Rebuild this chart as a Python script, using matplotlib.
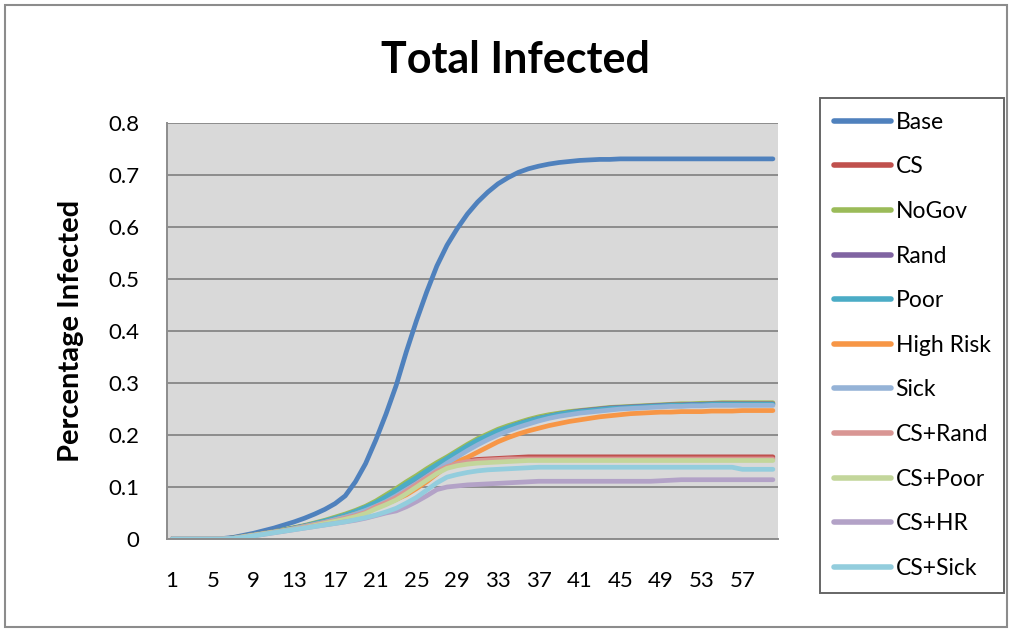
import matplotlib
matplotlib.use("Agg")
import matplotlib.pyplot as plt
from matplotlib.patches import Rectangle

days = list(range(1, 61))

base = [0, 0, 0, 0, 0, 0.001, 0.003, 0.007, 0.011, 0.016,
        0.021, 0.027, 0.033, 0.040, 0.048, 0.057, 0.068, 0.083, 0.110, 0.145,
        0.190, 0.240, 0.295, 0.360, 0.420, 0.475, 0.525, 0.565, 0.597, 0.625,
        0.648, 0.667, 0.683, 0.695, 0.705, 0.712, 0.717, 0.721, 0.724, 0.726,
        0.728, 0.729, 0.730, 0.730, 0.731, 0.731, 0.731, 0.731, 0.731, 0.731,
        0.731, 0.731, 0.731, 0.731, 0.731, 0.731, 0.731, 0.731, 0.731, 0.731]

cs = [0, 0, 0, 0, 0, 0, 0.002, 0.005, 0.008, 0.011,
      0.014, 0.017, 0.021, 0.025, 0.029, 0.034, 0.039, 0.044, 0.050, 0.057,
      0.066, 0.075, 0.085, 0.097, 0.110, 0.123, 0.135, 0.143, 0.148, 0.151,
      0.153, 0.154, 0.155, 0.156, 0.157, 0.158, 0.158, 0.158, 0.158, 0.158,
      0.158, 0.158, 0.158, 0.158, 0.158, 0.158, 0.158, 0.158, 0.158, 0.158,
      0.158, 0.158, 0.158, 0.158, 0.158, 0.158, 0.158, 0.158, 0.158, 0.158]

nogov = [0, 0, 0, 0, 0, 0, 0.002, 0.005, 0.008, 0.011,
         0.014, 0.018, 0.022, 0.026, 0.031, 0.036, 0.042, 0.048, 0.055, 0.063,
         0.073, 0.085, 0.097, 0.110, 0.122, 0.135, 0.147, 0.158, 0.170, 0.182,
         0.193, 0.202, 0.211, 0.218, 0.224, 0.230, 0.235, 0.239, 0.242, 0.245,
         0.247, 0.249, 0.251, 0.253, 0.254, 0.255, 0.256, 0.257, 0.258, 0.259,
         0.260, 0.260, 0.261, 0.261, 0.262, 0.262, 0.262, 0.262, 0.262, 0.262]

rand = [0, 0, 0, 0, 0, 0, 0.002, 0.005, 0.008, 0.011,
        0.014, 0.017, 0.021, 0.025, 0.029, 0.034, 0.039, 0.045, 0.052, 0.060,
        0.069, 0.080, 0.091, 0.104, 0.116, 0.129, 0.141, 0.153, 0.165, 0.177,
        0.188, 0.198, 0.207, 0.214, 0.221, 0.227, 0.232, 0.236, 0.240, 0.243,
        0.246, 0.248, 0.250, 0.252, 0.253, 0.254, 0.255, 0.256, 0.257, 0.258,
        0.258, 0.259, 0.259, 0.260, 0.260, 0.260, 0.260, 0.260, 0.260, 0.260]

poor = [0, 0, 0, 0, 0, 0, 0.002, 0.005, 0.008, 0.011,
        0.014, 0.017, 0.021, 0.025, 0.030, 0.035, 0.040, 0.046, 0.053, 0.061,
        0.070, 0.081, 0.093, 0.106, 0.118, 0.131, 0.143, 0.155, 0.167, 0.179,
        0.190, 0.199, 0.208, 0.215, 0.221, 0.227, 0.232, 0.236, 0.240, 0.243,
        0.245, 0.247, 0.249, 0.251, 0.252, 0.253, 0.254, 0.255, 0.256, 0.257,
        0.257, 0.258, 0.258, 0.259, 0.259, 0.259, 0.259, 0.259, 0.259, 0.259]

high_risk = [0, 0, 0, 0, 0, 0, 0.001, 0.004, 0.007, 0.010,
             0.013, 0.016, 0.020, 0.024, 0.028, 0.032, 0.037, 0.042, 0.048, 0.054,
             0.061, 0.068, 0.076, 0.085, 0.097, 0.110, 0.125, 0.140, 0.149, 0.157,
             0.167, 0.177, 0.187, 0.195, 0.202, 0.208, 0.213, 0.218, 0.222, 0.226,
             0.229, 0.232, 0.235, 0.237, 0.239, 0.241, 0.242, 0.243, 0.244, 0.244,
             0.245, 0.245, 0.245, 0.246, 0.246, 0.246, 0.247, 0.247, 0.247, 0.247]

sick = [0, 0, 0, 0, 0, 0, 0.001, 0.004, 0.007, 0.010,
        0.013, 0.016, 0.020, 0.024, 0.028, 0.032, 0.037, 0.042, 0.048, 0.055,
        0.063, 0.072, 0.083, 0.095, 0.107, 0.120, 0.133, 0.146, 0.158, 0.170,
        0.181, 0.191, 0.200, 0.208, 0.215, 0.221, 0.227, 0.232, 0.236, 0.239,
        0.242, 0.244, 0.246, 0.248, 0.250, 0.251, 0.252, 0.253, 0.254, 0.255,
        0.255, 0.256, 0.256, 0.257, 0.257, 0.257, 0.257, 0.257, 0.257, 0.257]

cs_rand = [0, 0, 0, 0, 0, 0, 0.001, 0.004, 0.007, 0.010,
           0.013, 0.016, 0.019, 0.023, 0.027, 0.031, 0.035, 0.040, 0.045, 0.051,
           0.062, 0.070, 0.080, 0.092, 0.105, 0.118, 0.130, 0.139, 0.145, 0.149,
           0.151, 0.152, 0.153, 0.154, 0.154, 0.154, 0.154, 0.154, 0.154, 0.154,
           0.154, 0.154, 0.154, 0.154, 0.154, 0.154, 0.154, 0.154, 0.154, 0.154,
           0.154, 0.154, 0.154, 0.154, 0.154, 0.154, 0.154, 0.154, 0.154, 0.154]

cs_poor = [0, 0, 0, 0, 0, 0, 0.001, 0.004, 0.007, 0.010,
           0.013, 0.016, 0.019, 0.022, 0.026, 0.030, 0.034, 0.038, 0.043, 0.049,
           0.058, 0.066, 0.075, 0.087, 0.100, 0.113, 0.126, 0.136, 0.141, 0.144,
           0.146, 0.147, 0.148, 0.149, 0.150, 0.151, 0.151, 0.151, 0.151, 0.151,
           0.151, 0.151, 0.151, 0.151, 0.151, 0.151, 0.151, 0.151, 0.151, 0.151,
           0.151, 0.151, 0.151, 0.151, 0.151, 0.151, 0.151, 0.151, 0.151, 0.151]

cs_hr = [0, 0, 0, 0, 0, 0, 0.001, 0.003, 0.006, 0.009,
         0.012, 0.015, 0.018, 0.021, 0.024, 0.027, 0.030, 0.033, 0.036, 0.040,
         0.045, 0.050, 0.054, 0.062, 0.072, 0.083, 0.095, 0.100, 0.102, 0.104,
         0.105, 0.106, 0.107, 0.108, 0.109, 0.110, 0.111, 0.111, 0.111, 0.111,
         0.111, 0.111, 0.111, 0.111, 0.111, 0.111, 0.111, 0.111, 0.112, 0.113,
         0.114, 0.114, 0.114, 0.114, 0.114, 0.114, 0.114, 0.114, 0.114, 0.114]

cs_sick = [0, 0, 0, 0, 0, 0, 0.001, 0.003, 0.006, 0.009,
           0.012, 0.015, 0.018, 0.021, 0.024, 0.027, 0.030, 0.033, 0.037, 0.041,
           0.046, 0.052, 0.059, 0.069, 0.080, 0.094, 0.108, 0.119, 0.124, 0.128,
           0.131, 0.133, 0.134, 0.135, 0.136, 0.137, 0.138, 0.138, 0.138, 0.138,
           0.138, 0.138, 0.138, 0.138, 0.138, 0.138, 0.138, 0.138, 0.138, 0.138,
           0.138, 0.138, 0.138, 0.138, 0.138, 0.138, 0.134, 0.134, 0.134, 0.134]

series_names = ["Base", "CS", "NoGov", "Rand", "Poor", "High Risk", "Sick",
                "CS+Rand", "CS+Poor", "CS+HR", "CS+Sick"]
series_values = [base, cs, nogov, rand, poor, high_risk, sick,
                 cs_rand, cs_poor, cs_hr, cs_sick]
series_colors = ["#4F81BD", "#C0504D", "#9BBB59", "#8064A2", "#4BACC6", "#F79646",
                 "#95B3D7", "#D99694", "#C3D69B", "#B3A2C7", "#93CDDD"]

x_tick_labels = [1, 5, 9, 13, 17, 21, 25, 29, 33, 37, 41, 45, 49, 53, 57]
y_ticks = [0, 0.1, 0.2, 0.3, 0.4, 0.5, 0.6, 0.7, 0.8]

plt.rcParams['font.family'] = ['Lato', 'DejaVu Sans']

W, H = 1012, 629
fig = plt.figure(figsize=(W / 100, H / 100), dpi=100)
fig.patch.set_facecolor("white")

ax = fig.add_axes([167 / W, 1 - 539 / H, (778 - 167) / W, (539 - 123) / H])
ax.set_facecolor("#D9D9D9")

for name, vals, col in zip(series_names, series_values, series_colors):
    ax.plot(days, vals, color=col, lw=3.4, label=name, solid_capstyle="round",
            solid_joinstyle="round")

ax.set_xlim(0.5, 60.5)
ax.set_ylim(0, 0.8)
ax.set_xticks(x_tick_labels)
ax.set_xticklabels([str(v) for v in x_tick_labels])
ax.set_yticks(y_ticks)
ax.set_yticklabels(["0" if v == 0 else f"{v:.1f}" for v in y_ticks])
ax.tick_params(axis="both", length=0, labelsize=16, colors="#000000")
ax.tick_params(axis="x", pad=23)
ax.tick_params(axis="y", pad=20)
ax.grid(axis="y", color="#8C8C8C", lw=1.4)
ax.set_axisbelow(True)
for s in ["top", "right"]:
    ax.spines[s].set_visible(False)
ax.spines["left"].set_color("#8C8C8C")
ax.spines["left"].set_linewidth(1.4)
ax.spines["bottom"].set_color("#8C8C8C")
ax.spines["bottom"].set_linewidth(1.4)

ax.set_ylabel("Percentage Infected", fontsize=21, fontweight="bold", labelpad=17)
fig.text(515 / W, 1 - 60 / H, "Total Infected", fontsize=31, fontweight="bold",
         ha="center", va="center")

leg = fig.legend(loc="upper left", bbox_to_anchor=(820 / W, 1 - 98 / H),
                 frameon=True, fancybox=False, fontsize=16.5, handlelength=2.5,
                 handletextpad=0.2, labelspacing=1.03, borderpad=0.6,
                 borderaxespad=0)
leg.get_frame().set_edgecolor("#404040")
leg.get_frame().set_linewidth(1.4)
for line in leg.get_lines():
    line.set_linewidth(4)

fig.add_artist(Rectangle((5 / W, 2 / H), 1002 / W, 622 / H, transform=fig.transFigure,
                         fill=False, edgecolor="#8C8C8C", lw=1.5))

fig.savefig("out.png", dpi=100)
